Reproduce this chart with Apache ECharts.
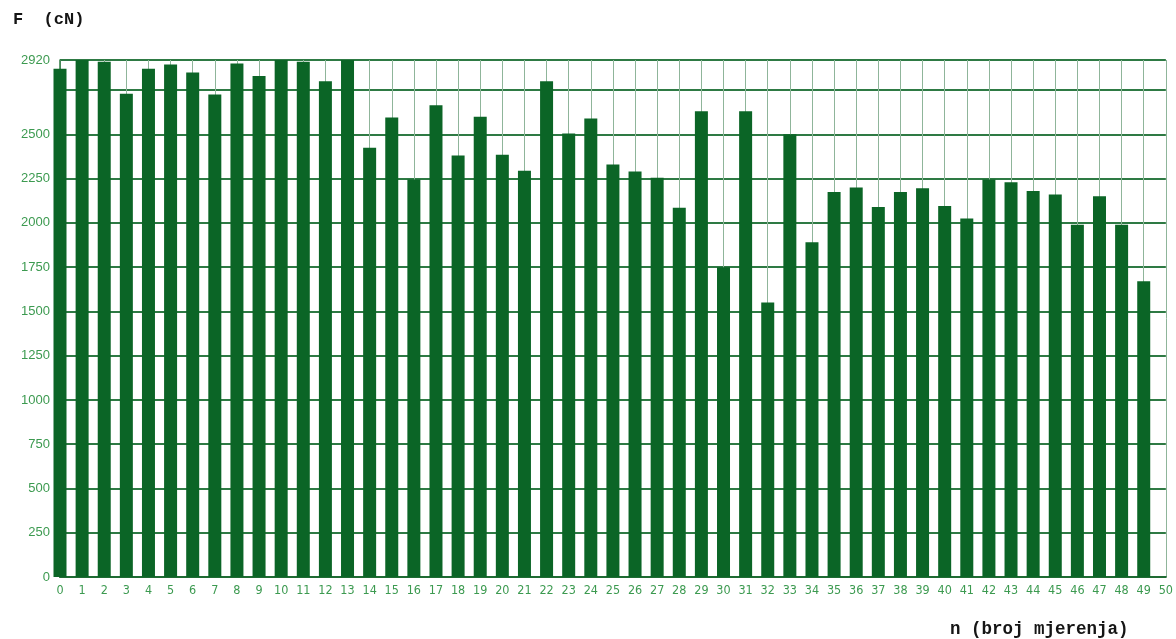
<!DOCTYPE html>
<html>
<head>
<meta charset="utf-8">
<script src="https://cdn.jsdelivr.net/npm/echarts@6/dist/echarts.min.js"></script>
<style>
  html, body { margin: 0; padding: 0; background: #ffffff; }
  #chart { width: 1176px; height: 639px; }
</style>
</head>
<body>
<div id="chart"></div>
<script>
// measurement index n (0..49), x-axis tick labels run 0..50
const measurements = [0,1,2,3,4,5,6,7,8,9,10,11,12,13,14,15,16,17,18,19,20,21,22,23,24,25,26,27,28,29,30,31,32,33,34,35,36,37,38,39,40,41,42,43,44,45,46,47,48,49];
// breaking force F (cN)
const forceValues = [2870, 2920, 2910, 2730, 2870, 2895, 2850, 2725, 2900, 2830,
                     2920, 2910, 2800, 2920, 2425, 2595, 2245, 2665, 2380, 2600,
                     2385, 2295, 2800, 2505, 2590, 2330, 2290, 2255, 2085, 2630,
                     1750, 2630, 1550, 2500, 1890, 2175, 2200, 2090, 2175, 2195,
                     2095, 2025, 2245, 2230, 2180, 2160, 1990, 2150, 1990, 1670];
const yMax = 2920;
const yStep = 250;
const hiddenYLabels = [2750];
const xMin = 0, xMax = 50;

const yTitle = 'F  (cN)';
const xTitle = 'n (broj mjerenja)';

const labelFont = "'Liberation Sans', 'DejaVu Sans', sans-serif";
const xLabelFont = "'Liberation Sans Narrow', 'DejaVu Sans Condensed', 'Liberation Sans', sans-serif";
const titleFont = "'Liberation Mono', 'DejaVu Sans Mono', monospace";

const chart = echarts.init(document.getElementById('chart'), null, { renderer: 'canvas' });
chart.setOption({
  animation: false,
  backgroundColor: '#ffffff',
  title: [
    { text: yTitle, left: 8, top: 6,
      textStyle: { fontFamily: titleFont, fontSize: 17, fontWeight: 'bold', color: '#151515' } },
    { text: xTitle, left: 945, top: 616,
      textStyle: { fontFamily: titleFont, fontSize: 17.5, fontWeight: 'bold', color: '#151515' } }
  ],
  grid: { left: 60, right: 8, top: 60, bottom: 62, containLabel: false },
  xAxis: {
    type: 'value',
    min: xMin,
    max: xMax,
    interval: 1,
    axisLine: { show: true, onZero: false, lineStyle: { color: '#1f6b33', width: 2 } },
    axisTick: { show: false },
    axisLabel: {
      show: true, margin: 7, color: '#3c9a50', fontSize: 12.5, fontFamily: xLabelFont,
      showMinLabel: true, showMaxLabel: true, hideOverlap: false
    },
    splitLine: { show: true, lineStyle: { color: '#8fb59a', width: 1 } }
  },
  yAxis: {
    type: 'value',
    min: 0,
    max: yMax,
    interval: yStep,
    offset: 7,
    axisLine: { show: true, lineStyle: { color: '#2f7a42', width: 1.5 } },
    axisTick: { show: false },
    axisLabel: {
      margin: 3, color: '#3c9a50', fontSize: 13, fontFamily: labelFont,
      showMinLabel: true, showMaxLabel: true, hideOverlap: false,
      formatter: v => hiddenYLabels.includes(v) ? '' : String(v)
    },
    splitLine: { show: true, lineStyle: { color: '#2e7a44', width: 2 } }
  },
  series: [{
    type: 'bar',
    data: measurements.map((n, i) => [n, forceValues[i]]),
    barWidth: 13,
    clip: false,
    itemStyle: { color: '#0b6526' }
  }]
});
</script>
</body>
</html>
